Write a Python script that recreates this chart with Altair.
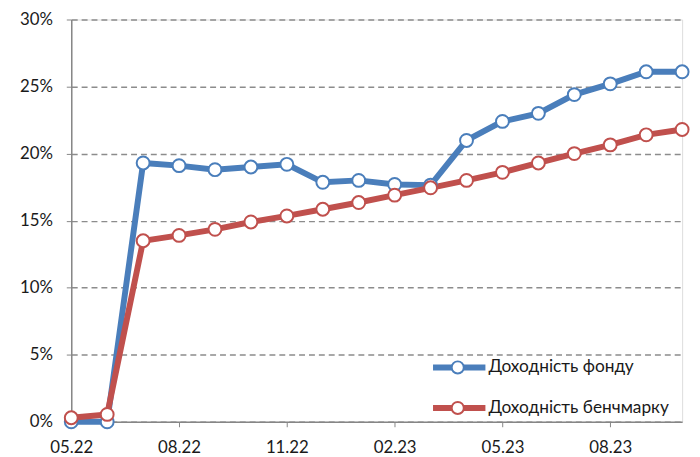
import altair as alt
import pandas as pd

months = ["05.22", "06.22", "07.22", "08.22", "09.22", "10.22", "11.22", "12.22", "01.23",
          "02.23", "03.23", "04.23", "05.23", "06.23", "07.23", "08.23", "09.23", "10.23"]
fund = [0.0, 0.0, 19.3, 19.1, 18.8, 19.0, 19.2, 17.86, 18.0, 17.7, 17.65, 20.98, 22.4, 23.0,
        24.4, 25.2, 26.1, 26.1]
bench = [0.3, 0.55, 13.5, 13.9, 14.35, 14.9, 15.35, 15.85, 16.35, 16.9, 17.45, 18.0, 18.6,
         19.3, 20.0, 20.65, 21.4, 21.8]
series = ["Доходність фонду", "Доходність бенчмарку"]
tick_labels = ["05.22", "08.22", "11.22", "02.23", "05.23", "08.23"]
colors = ["#4A7EBB", "#C0504D"]

rows = []
for name, vals in zip(series, [fund, bench]):
    for m, v in zip(months, vals):
        rows.append({"month": m, "value": v / 100, "series": name})
df = pd.DataFrame(rows)

FONT = "Lato"

x = alt.X("month:O", sort=months, scale=alt.Scale(padding=0),
          axis=alt.Axis(values=tick_labels, labelAngle=0, title=None, labelFontSize=17,
                        labelFont=FONT, labelColor="#1a1a1a", labelPadding=13, tickSize=5,
                        tickColor="#868686", domainColor="#868686", domainWidth=1.5,
                        grid=False, labelOverlap=False, labelBaseline="top"))
y = alt.Y("value:Q", scale=alt.Scale(domain=[0, 0.3], nice=False),
          axis=alt.Axis(values=[0, 0.05, 0.1, 0.15, 0.2, 0.25, 0.3], format=".0%", title=None,
                        labelFontSize=17, labelFont=FONT, labelColor="#1a1a1a", labelPadding=14,
                        labelAlign="right", ticks=True, tickSize=5, tickColor="#868686",
                        domainColor="#868686", domainWidth=1.5, grid=True,
                        gridColor="#8c8c8c", gridDash=[6, 4], gridWidth=1.5))

color = alt.Color("series:N", sort=series, scale=alt.Scale(domain=series, range=colors),
                  legend=None)

lines = alt.Chart(df).mark_line(strokeWidth=6).encode(x=x, y=y, color=color)

points = alt.Chart(df).mark_point(filled=False, fill="white", fillOpacity=1, size=170,
                                  strokeWidth=2, opacity=1).encode(
    x=x, y=y, stroke=alt.Stroke("series:N", sort=series,
                                scale=alt.Scale(domain=series, range=colors), legend=None))

# manual legend (inside plot, bottom right)
legend_layers = []
for i, (name, col) in enumerate(zip(series, colors)):
    ldf = pd.DataFrame({"label": [name]})
    ly = 352 + 41 * i
    base = alt.Chart(ldf)
    legend_layers.append(base.mark_rule(color=col, strokeWidth=6).encode(
        x=alt.value(366), x2=alt.value(419), y=alt.value(ly)))
    legend_layers.append(base.mark_point(filled=False, fill="white", fillOpacity=1, size=150,
                                         strokeWidth=2, color=col, opacity=1).encode(
        x=alt.value(391), y=alt.value(ly)))
    legend_layers.append(base.mark_text(align="left", baseline="middle", font=FONT,
                                        fontSize=17.5, color="#1a1a1a").encode(
        x=alt.value(422), y=alt.value(ly), text="label:N"))

chart = alt.layer(lines, points, *legend_layers).properties(
    width=618, height=407,
    autosize=alt.AutoSizeParams(type="none"),
    padding={"left": 64, "top": 9, "right": 10, "bottom": 33},
).configure_view(stroke=None).configure(background="white")

chart.save("out.html", embed_options={"renderer": "svg", "actions": False})
